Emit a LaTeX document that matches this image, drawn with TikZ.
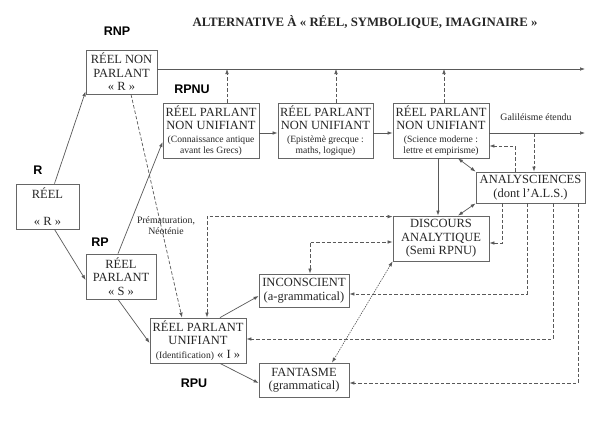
\documentclass[tikz,border=0pt]{standalone}
\usepackage{fontspec}
\setmainfont{Liberation Serif}
\newfontfamily\lblfont{Liberation Sans}
\usetikzlibrary{arrows.meta}
\tikzset{
  box/.style={draw=black!60, line width=0.8pt, fill=white, align=center, inner sep=1pt, font=\fontsize{12.5}{13.5}\selectfont, text=black!85},
  lbl/.style={font=\lblfont\bfseries\fontsize{12.5}{13}\selectfont, text=black},
  note/.style={font=\fontsize{9.8}{11}\selectfont, text=black!85, align=center},
  conn/.style={draw=black!65, line width=0.7pt},
  arr/.style={conn, -{Latex[length=5pt,width=3.6pt]}},
  darr/.style={arr, dash pattern=on 3.5pt off 2pt},
  ddarr/.style={conn, dash pattern=on 3.5pt off 2pt, {Latex[length=5pt,width=3.6pt]}-{Latex[length=5pt,width=3.6pt]}},
  dblarr/.style={conn, {Latex[length=5pt,width=3.6pt]}-{Latex[length=5pt,width=3.6pt]}},
  dotarr/.style={conn, line width=0.6pt, dash pattern=on 1.5pt off 1pt, {Latex[length=5pt,width=3.6pt]}-{Latex[length=5pt,width=3.6pt]}},
}
\newcommand{\smf}{\fontsize{9.6}{10.5}\selectfont}
\begin{document}
\begin{tikzpicture}[x=1pt,y=-1pt]
\useasboundingbox[fill=white] (0,0) rectangle (598,423);

% title
\node[font=\bfseries\fontsize{12.8}{14}\selectfont, text=black!85] (title) at (365,22) {ALTERNATIVE À « RÉEL, SYMBOLIQUE, IMAGINAIRE »};

% labels
\node[lbl] (lrnp) at (117,31) {RNP};
\node[lbl] (lr) at (38,170) {R};
\node[lbl] (lrpnu) at (192,89) {RPNU};
\node[lbl] (lrp) at (100,242) {RP};
\node[lbl] (lrpu) at (194,383) {RPU};

% boxes
\node[box, minimum width=71, minimum height=44] (rnp) at (121.5,72) {RÉEL NON\\PARLANT\\« R »};
\node[box, minimum width=63, minimum height=45] (reel) at (47.5,206.5) {RÉEL\\[13.5pt]« R »};
\node[box, minimum width=70, minimum height=45] (rp) at (121,276.5) {RÉEL\\PARLANT\\« S »};
\node[box, minimum width=96, minimum height=55] (rpnu1) at (211,130.5) {RÉEL PARLANT\\NON UNIFIANT\\[-1pt]{\smf (Connaissance antique}\\[-2.5pt]{\smf avant les Grecs)}};
\node[box, minimum width=95, minimum height=55] (rpnu2) at (325.5,130.5) {RÉEL PARLANT\\NON UNIFIANT\\[-1pt]{\smf (Epistèmè grecque :}\\[-2.5pt]{\smf maths, logique)}};
\node[box, minimum width=96, minimum height=55] (rpnu3) at (441,130.5) {RÉEL PARLANT\\NON UNIFIANT\\[-1pt]{\smf (Science moderne :}\\[-2.5pt]{\smf lettre et empirisme)}};
\node[box, minimum width=109, minimum height=31] (als) at (530.5,187.5) {ANALYSCIENCES\\(dont l’A.L.S.)};
\node[box, minimum width=96, minimum height=45] (disc) at (441,238.5) {DISCOURS\\ANALYTIQUE\\(Semi RPNU)};
\node[box, minimum width=90, minimum height=33] (incon) at (304,290.5) {INCONSCIENT\\(a-grammatical)};
\node[box, minimum width=90, minimum height=34] (fant) at (304,380) {FANTASME\\(grammatical)};
\node[box, minimum width=96, minimum height=45] (rpu) at (198,340.5) {RÉEL PARLANT\\UNIFIANT\\{\smf (Identification)} « I »};

% free ends
\coordinate (topend) at (585,69);
\coordinate (galend) at (585,133);
\coordinate (g1) at (534,133);

% notes
\node[note] (gal) at (536,117) {Galiléisme étendu};

% solid connectors
\draw[arr] ([xshift=7]reel.north) -- ([yshift=3]rnp.south west);
\draw[arr] ([xshift=7]reel.south) -- ([yshift=-3.5]rp.west);
\draw[arr] ([xshift=-3]rp.north) -- ([yshift=-11.5]rpnu1.west);
\draw[arr] ([xshift=-3]rp.south) -- ([yshift=-2.5]rpu.west);
\draw[arr] ([yshift=3]rnp.east) -- (topend);
\draw[arr] ([yshift=-2.5]rpnu1.east) -- ([yshift=-2.5]rpnu2.west);
\draw[arr] ([yshift=-2.5]rpnu2.east) -- ([yshift=-2.5]rpnu3.west);
\draw[arr] ([yshift=-2.5]rpnu3.east) -- (galend);
\draw[arr] ([xshift=-3]rpnu3.south) -- ([xshift=-3]disc.north);
\draw[arr] ([xshift=22]rpu.north) -- ([yshift=-5.5]incon.west);
\draw[arr] ([xshift=22]rpu.south) -- ([yshift=-3]fant.west);
\draw[dblarr] ([xshift=17]rpnu3.south) -- (als.north west);
\draw[dblarr] (als.south west) -- ([xshift=17]disc.north);

% dashed connectors
\draw[darr] ([xshift=16]rpnu1.north) -- ([xshift=16]rpnu1.north |- topend);
\draw[darr] ([xshift=10.5]rpnu2.north) -- ([xshift=10.5]rpnu2.north |- topend);
\draw[darr] ([xshift=3]rpnu3.north) -- ([xshift=3]rpnu3.north |- topend);
\draw[darr] (g1) -- (g1 |- als.north);
\draw[darr] ([xshift=-15.5]als.north) |- ([yshift=-15.5]rpnu3.east);
\draw[darr] ([xshift=-28.5]als.south) |- ([yshift=-4.5]disc.east);
\draw[darr] ([xshift=-3.5]als.south) |- ([yshift=-3.5]incon.east);
\draw[darr] ([xshift=22.5]als.south) |- ([yshift=1.5]rpu.east);
\draw[darr] ([xshift=47.5]als.south) |- ([yshift=-3]fant.east);
\draw[ddarr] ([xshift=9]rpu.north) |- ([yshift=-1]disc.north west);
\draw[ddarr] ([xshift=6]incon.north) |- ([yshift=-3.5]disc.west);
\draw[dotarr] (disc.south west) -- ([xshift=28]fant.north);
\draw[darr] ([xshift=9.5]rnp.south) -- ([xshift=-16]rpu.north);

\node[note] (prem) at (166,226) {Prématuration,\\Néoténie};
\end{tikzpicture}
\end{document}
